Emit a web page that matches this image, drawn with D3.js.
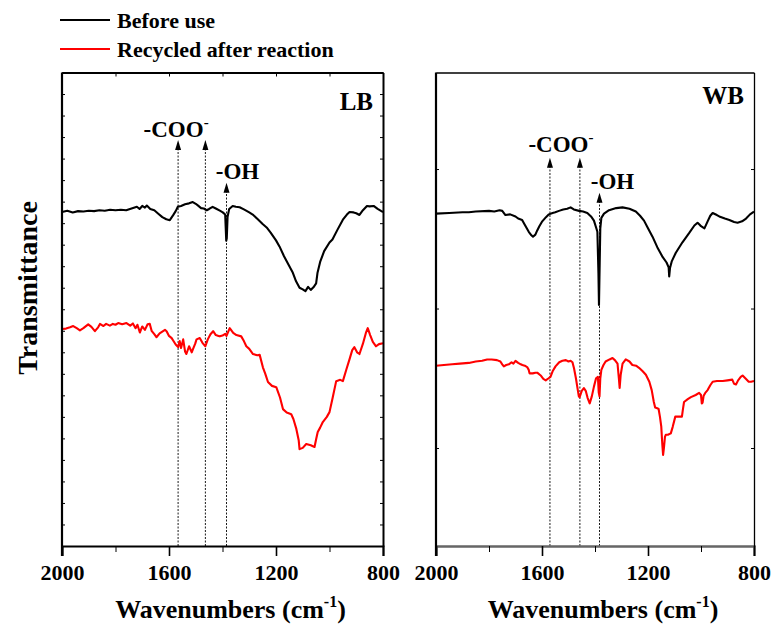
<!DOCTYPE html>
<html>
<head>
<meta charset="utf-8">
<script src="https://cdn.jsdelivr.net/npm/d3@7"></script>
<style>
  body { margin: 0; background: #fff; }
  svg { font-family: "Liberation Serif", "Times New Roman", serif; font-weight: bold; }
</style>
</head>
<body>
<script>
// 数据：波数 (cm-1) 与透过率（任意单位），读自原图
const lbBefore = [
  [2000,77.6],[1980,77.9],[1960,77.5],[1940,77.8],[1920,77.7],[1900,77.9],[1880,77.8],[1860,78.0],
  [1840,77.9],[1820,78.1],[1800,78.0],[1780,78.1],[1760,78.0],[1740,78.4],[1720,78.8],[1710,78.3],
  [1700,79.0],[1690,78.6],[1683,79.1],[1670,78.3],[1655,78.0],[1640,77.2],[1625,76.4],[1610,75.9],
  [1597,75.7],[1585,76.8],[1575,77.8],[1567,78.8],[1555,79.0],[1540,79.4],[1525,79.6],[1511,79.9],
  [1500,79.5],[1490,79.0],[1480,78.5],[1470,78.4],[1459,78.0],[1450,78.3],[1437,78.8],[1425,78.4],
  [1410,77.9],[1399,77.5],[1390,77.0],[1386,70.9],[1384,71.5],[1381,76.5],[1375,78.3],[1362,79.0],
  [1350,78.8],[1336,78.7],[1320,78.2],[1300,77.5],[1287,77.0],[1270,76.0],[1250,74.8],[1235,74.0],
  [1220,72.8],[1200,71.0],[1187,69.6],[1170,67.3],[1150,65.0],[1138,63.6],[1125,61.5],[1112,60.0],
  [1100,59.6],[1090,59.2],[1080,60.2],[1070,59.5],[1060,60.1],[1050,61.0],[1045,63.4],[1035,66.0],
  [1020,68.5],[1000,70.5],[989,71.2],[970,73.5],[950,75.8],[935,77.0],[925,77.6],[910,77.5],
  [900,77.3],[888,76.9],[875,78.0],[860,79.0],[850,78.9],[835,79.0],[820,78.3],[806,77.8],[800,77.6]
];
const lbRecycled = [
  [2000,50.4],[1985,50.5],[1970,50.8],[1958,51.1],[1945,50.6],[1933,50.1],[1920,50.6],[1902,51.5],
  [1890,50.9],[1877,49.9],[1865,50.8],[1858,51.6],[1845,51.1],[1835,51.6],[1821,51.2],[1810,51.6],
  [1800,51.4],[1790,51.8],[1775,51.5],[1759,51.8],[1745,51.2],[1735,51.7],[1725,50.6],[1718,51.4],
  [1709,49.6],[1700,51.0],[1690,50.2],[1680,51.5],[1672,51.6],[1665,50.0],[1655,49.2],[1647,48.5],
  [1635,49.4],[1625,49.8],[1615,50.2],[1609,49.9],[1600,48.8],[1590,48.3],[1585,47.8],[1575,46.8],
  [1566,46.2],[1560,47.6],[1555,46.0],[1547,48.0],[1540,45.2],[1535,44.6],[1525,46.4],[1515,45.0],
  [1510,45.8],[1502,47.0],[1497,48.0],[1485,48.3],[1475,47.2],[1464,46.4],[1455,48.0],[1445,49.2],
  [1435,49.9],[1425,49.0],[1415,48.8],[1410,48.7],[1400,48.9],[1390,49.3],[1385,48.8],[1373,50.6],
  [1360,49.5],[1348,49.0],[1330,48.7],[1320,47.6],[1311,46.4],[1300,45.8],[1286,44.6],[1270,44.3],
  [1261,44.4],[1249,41.5],[1240,40.0],[1230,38.1],[1215,37.2],[1199,36.9],[1185,34.5],[1174,31.8],
  [1160,31.0],[1143,30.6],[1135,29.5],[1124,27.2],[1115,24.5],[1112,22.5],[1100,22.8],[1087,23.7],
  [1070,23.4],[1056,23.0],[1050,24.8],[1044,26.5],[1035,27.5],[1025,28.8],[1010,30.0],[1000,31.1],
  [988,34.5],[975,38.3],[960,38.6],[950,38.3],[937,41.0],[925,43.4],[915,45.5],[907,46.2],
  [897,45.0],[888,44.6],[875,47.0],[864,49.5],[857,50.6],[848,49.0],[838,47.4],[826,46.4],
  [815,46.9],[800,47.1]
];
const wbBefore = [
  [2000,73.6],[1950,73.7],[1900,73.8],[1876,73.8],[1850,73.9],[1800,74.0],[1780,73.9],[1760,74.1],
  [1750,74.0],[1738,73.4],[1720,73.5],[1700,73.2],[1690,72.9],[1675,72.7],[1665,72.0],[1650,71.0],
  [1640,70.5],[1634,70.3],[1625,70.6],[1618,71.2],[1610,71.8],[1599,72.5],[1585,73.1],[1574,73.5],
  [1560,73.7],[1550,73.8],[1536,74.0],[1520,74.2],[1505,74.3],[1492,74.5],[1480,74.2],[1460,74.0],
  [1445,73.9],[1429,73.7],[1415,73.2],[1404,72.6],[1395,71.5],[1391,71.0],[1387,65.0],[1385,60.5],
  [1383,65.0],[1380,71.5],[1376,73.0],[1366,73.6],[1347,74.1],[1320,74.4],[1296,74.5],[1270,74.3],
  [1246,73.9],[1230,73.3],[1215,72.6],[1200,71.5],[1183,70.3],[1165,68.8],[1145,67.4],[1130,66.6],
  [1122,65.9],[1120,64.6],[1117,65.8],[1110,66.8],[1095,68.0],[1070,69.5],[1045,70.8],[1025,71.9],
  [1013,72.3],[1005,72.0],[1000,71.8],[987,71.5],[975,72.5],[965,73.3],[956,73.7],[940,73.4],
  [931,73.2],[910,72.9],[893,72.7],[875,72.4],[862,72.3],[845,72.5],[830,72.9],[815,73.5],[800,73.9]
];
const wbRecycled = [
  [2000,51.8],[1970,51.9],[1939,52.0],[1910,52.1],[1876,52.2],[1850,52.4],[1826,52.5],[1807,52.7],
  [1790,52.7],[1770,52.6],[1757,52.4],[1750,52.0],[1744,51.7],[1735,51.9],[1725,52.0],[1715,52.3],
  [1708,52.1],[1700,52.5],[1690,52.2],[1680,52.0],[1674,51.9],[1665,51.8],[1656,51.6],[1650,51.2],
  [1647,50.7],[1635,50.7],[1625,50.8],[1618,50.8],[1605,50.4],[1595,49.9],[1586,49.7],[1575,50.0],
  [1568,50.2],[1560,51.0],[1549,51.7],[1535,52.3],[1523,52.5],[1510,52.6],[1500,52.4],[1492,52.5],
  [1485,52.3],[1479,51.4],[1472,50.0],[1467,48.8],[1461,47.4],[1458,47.3],[1450,48.2],[1442,48.6],
  [1435,48.2],[1428,47.2],[1420,46.4],[1412,47.4],[1404,48.8],[1396,50.0],[1389,50.2],[1386,48.0],
  [1383,47.4],[1380,50.0],[1376,51.2],[1368,51.9],[1360,52.4],[1345,52.7],[1334,52.9],[1325,52.6],
  [1315,52.1],[1310,50.0],[1307,48.6],[1303,50.5],[1296,52.1],[1284,52.7],[1270,52.4],[1259,51.9],
  [1245,51.8],[1234,51.5],[1220,51.0],[1208,50.5],[1195,49.5],[1186,48.3],[1178,46.6],[1173,45.8],
  [1165,45.7],[1160,45.6],[1155,44.5],[1150,43.1],[1146,40.5],[1143,39.0],[1140,40.0],[1136,41.6],
  [1133,41.9],[1125,41.9],[1114,42.1],[1107,43.0],[1097,44.5],[1085,44.5],[1072,44.5],[1068,45.6],
  [1064,46.6],[1050,47.0],[1038,47.3],[1020,47.6],[1007,47.9],[1000,47.6],[997,46.4],[994,46.5],
  [990,47.5],[984,47.9],[975,48.3],[965,49.0],[956,49.5],[940,49.6],[918,49.6],[900,49.7],
  [882,49.8],[875,49.2],[868,49.1],[860,49.7],[850,50.2],[843,50.4],[830,49.9],[820,49.5],
  [811,49.5],[800,49.6]
];
// 刻度
const xMajor = [2000, 1600, 1200, 800];
const xMinor = [1800, 1400, 1000];
const lbYTicks = d3.range(0, 111, 5);
const wbYTicks = [40, 60, 80];
// 标注：箭头位置（波数）与箭头尖端数值
const lbMarks = [[1566, 94.3], [1464, 94.3], [1385, 84.4]];
const wbMarks = [[1570, 81.6], [1457, 81.6], [1383, 76.6]];
const seriesNames = ["Before use", "Recycled after reaction"];
const seriesColors = ["#000", "#ff0000"];

const width = 771, height = 629;
const svg = d3.select("body").append("svg")
  .attr("width", width).attr("height", height);

const plotTop = 72.5, plotBottom = 546;

function panel(opt) {
  const x = d3.scaleLinear().domain([2000, 800]).range([opt.x0, opt.x1]);
  const y = d3.scaleLinear().domain(opt.yDomain).range([plotBottom, plotTop]);
  const g = svg.append("g");

  // 虚线 + 箭头
  opt.marks.forEach(([w, v]) => {
    g.append("line")
      .attr("x1", x(w)).attr("x2", x(w))
      .attr("y1", plotBottom).attr("y2", y(v) + 8)
      .attr("stroke", "#000").attr("stroke-width", 0.9)
      .attr("stroke-dasharray", "2,1.5");
    const tx = x(w), ty = y(v);
    g.append("path")
      .attr("d", `M${tx},${ty} L${tx - 3},${ty + 10} L${tx + 3},${ty + 10} Z`)
      .attr("fill", "#000");
  });

  // 曲线
  const line = d3.line().x(d => x(d[0])).y(d => y(d[1]));
  [opt.before, opt.recycled].forEach((data, i) => {
    g.append("path").datum(data)
      .attr("d", line)
      .attr("fill", "none")
      .attr("stroke", seriesColors[i])
      .attr("stroke-width", 2.1)
      .attr("stroke-linejoin", "round");
  });

  // 坐标轴
  const bAxis = g.append("g").attr("transform", `translate(0,${plotBottom})`)
    .call(d3.axisBottom(x).tickValues(xMajor).tickSize(10).tickPadding(8).tickFormat(d3.format("d")));
  g.append("g").attr("transform", `translate(0,${plotBottom})`)
    .call(d3.axisBottom(x).tickValues(xMinor).tickSize(6).tickFormat(""))
    .call(a => a.select(".domain").remove());
  bAxis.select(".domain").attr("stroke-width", opt.bottomWidth).attr("stroke", opt.bottomColor);
  bAxis.selectAll("text").attr("font-size", 22).attr("font-family", "Liberation Serif")
    .attr("font-weight", "bold").attr("fill", "#000");
  bAxis.selectAll(".tick line").attr("stroke-width", 1.6);

  const topAxis = g.append("g").attr("transform", `translate(0,${plotTop})`)
    .call(d3.axisTop(x).tickValues(opt.topTicks).tickSize(-4).tickSizeOuter(0).tickFormat(""));
  topAxis.select(".domain").attr("stroke-width", opt.frameWidth);

  const lAxis = g.append("g").attr("transform", `translate(${opt.x0},0)`)
    .call(d3.axisLeft(y).tickValues(opt.yTicks).tickSize(-3).tickSizeOuter(0).tickFormat(""));
  lAxis.select(".domain").attr("stroke-width", 2.2).attr("d", `M0,${plotTop}V${plotBottom + 10}`);
  const rAxis = g.append("g").attr("transform", `translate(${opt.x1},0)`)
    .call(d3.axisRight(y).tickValues(opt.yTicks).tickSize(-3).tickSizeOuter(0).tickFormat(""));
  rAxis.select(".domain").attr("stroke-width", opt.frameWidth);
  g.selectAll(".tick line").attr("stroke", "#000");

  // 标注文字
  const coo = g.append("text").attr("x", x(opt.marks[0][0]) + opt.cooDx)
    .attr("y", y(opt.marks[0][1]) + opt.cooDy)
    .attr("text-anchor", "middle").attr("font-size", 23);
  coo.append("tspan").text("-COO");
  coo.append("tspan").attr("font-size", 15).attr("dy", -10).text("-");
  g.append("text").attr("x", x(opt.marks[2][0]) + opt.ohDx).attr("y", y(opt.marks[2][1]) - 4)
    .attr("text-anchor", "middle").attr("font-size", 23).text("-OH");
  g.append("text").attr("x", opt.x1 - 10).attr("y", opt.titleY)
    .attr("text-anchor", "end").attr("font-size", 25).text(opt.title);

  // x 轴标题
  const xt = g.append("text").attr("x", (opt.x0 + opt.x1) / 2 + 8).attr("y", 618)
    .attr("text-anchor", "middle").attr("font-size", 26);
  xt.append("tspan").text("Wavenumbers (cm");
  xt.append("tspan").attr("font-size", 16).attr("dy", -11).text("-1");
  xt.append("tspan").attr("dy", 11).text(")");
}

panel({
  x0: 62, x1: 383, yDomain: [0, 110], yTicks: lbYTicks, topTicks: d3.range(2000, 799, -200),
  before: lbBefore, recycled: lbRecycled, marks: lbMarks, title: "LB", titleY: 110,
  cooDx: -2, cooDy: -3, ohDx: 11,
  frameWidth: 2, bottomWidth: 2, bottomColor: "#000"
});
panel({
  x0: 436, x1: 754, yDomain: [25.95, 93.84], yTicks: wbYTicks, topTicks: [],
  before: wbBefore, recycled: wbRecycled, marks: wbMarks, title: "WB", titleY: 104,
  cooDx: 11, cooDy: -6, ohDx: 13,
  frameWidth: 1.3, bottomWidth: 2.5, bottomColor: "#666"
});

// y 轴标题
svg.append("text")
  .attr("transform", "translate(37,288) rotate(-90)")
  .attr("text-anchor", "middle").attr("font-size", 28)
  .text("Transmittance");

// 图例
const legend = svg.append("g");
seriesNames.forEach((name, i) => {
  const ly = 20 + i * 29;
  legend.append("line").attr("x1", 60).attr("x2", 110).attr("y1", ly).attr("y2", ly)
    .attr("stroke", seriesColors[i]).attr("stroke-width", 2);
  legend.append("text").attr("x", 117).attr("y", ly + 8).attr("font-size", 22).text(name);
});
</script>
</body>
</html>
